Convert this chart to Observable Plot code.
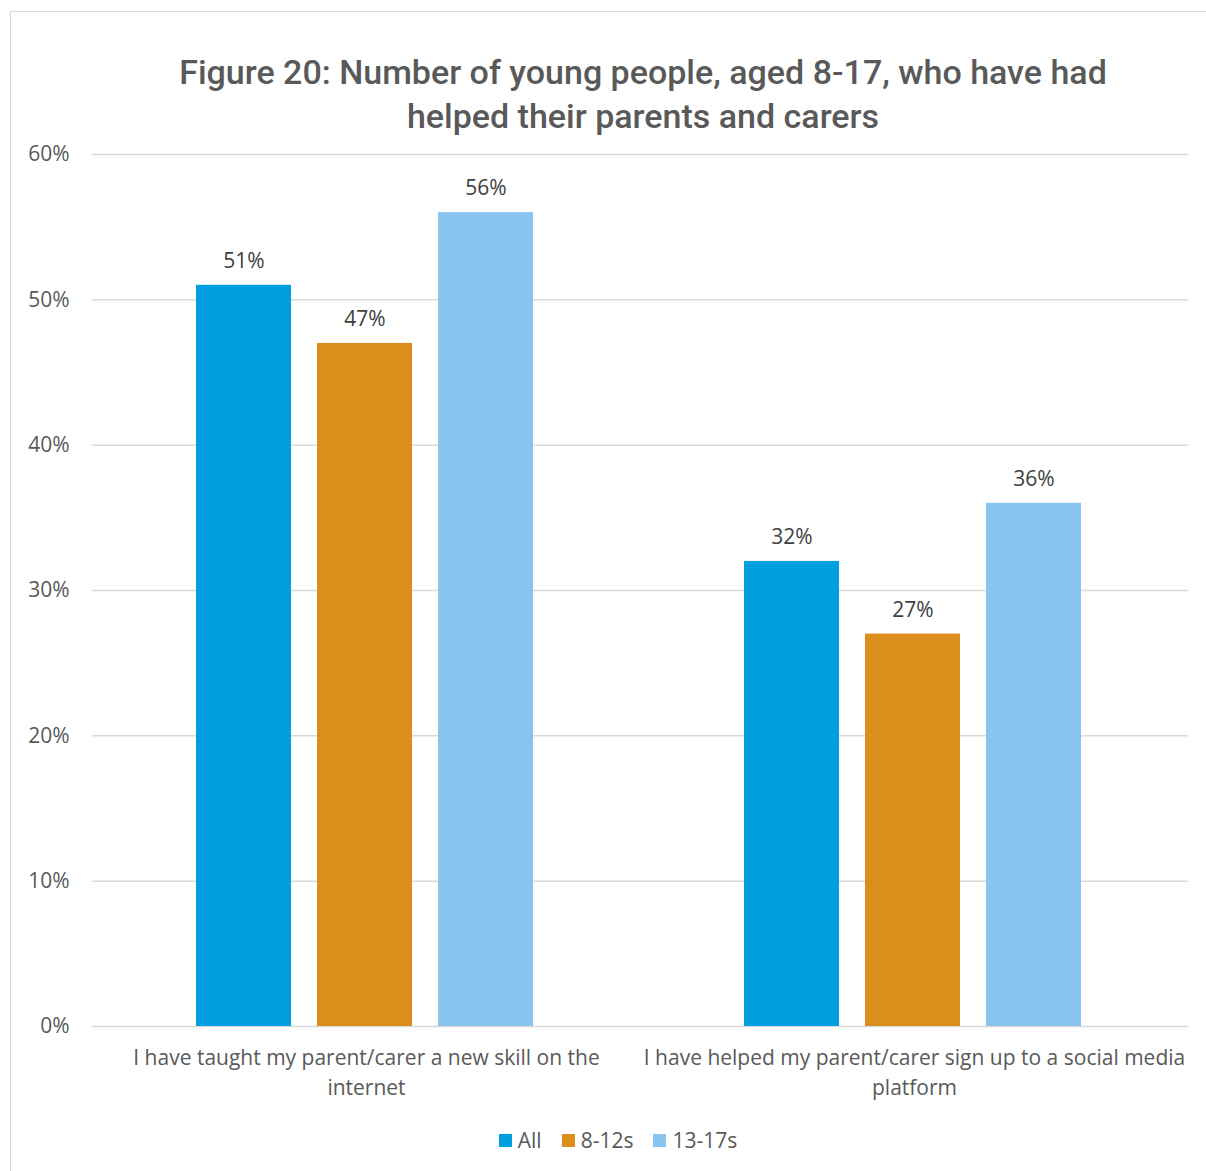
<!DOCTYPE html>
<html>
<head>
<meta charset="utf-8">
<script src="https://cdn.jsdelivr.net/npm/d3@7"></script>
<script src="https://cdn.jsdelivr.net/npm/@observablehq/plot@0.6"></script>
<style>
  html, body { margin: 0; padding: 0; background: #fff; }
  body { width: 1206px; height: 1171px; position: relative; overflow: hidden; font-family: "Open Sans", Lato, sans-serif; }
  #frame { position: absolute; left: 10px; top: 11px; width: 1400px; height: 1400px; border-left: 1.5px solid #d9d9d9; border-top: 1.5px solid #d9d9d9; box-sizing: border-box; }
  #wrap { position: relative; }
  #title { box-sizing: border-box; width: 1206px; padding-top: 50px; padding-left: 80px; height: 138px; text-align: center; font-family: Roboto, sans-serif; font-weight: 500; font-size: 34px; line-height: 44px; color: #595959; }
  #chart svg { display: block; }
  #legend { box-sizing: border-box; width: 1206px; padding-left: 30px; margin-top: 21px; display: flex; justify-content: center; gap: 20px; font-size: 21px; line-height: 26px; color: #595959; }
  #legend .item { display: flex; align-items: center; gap: 6px; }
  #legend .sw { width: 13px; height: 13px; display: inline-block; }
</style>
</head>
<body>
<div id="frame"></div>
<div id="wrap">
  <div id="title">Figure 20: Number of young people, aged 8-17, who have had<br>helped their parents and carers</div>
  <div id="chart"></div>
  <div id="legend"></div>
</div>
<script>
const categories = [
  "I have taught my parent/carer a new skill on the internet",
  "I have helped my parent/carer sign up to a social media platform"
];
const categoryLabels = [
  "I have taught my parent/carer a new skill on the\ninternet",
  "I have helped my parent/carer sign up to a social media\nplatform"
];
const series = ["All", "8-12s", "13-17s"];
const seriesColors = ["#009FE0", "#DC8E1D", "#87C5EF"];
const valuesAll = [51, 32];
const values812 = [47, 27];
const values1317 = [56, 36];
const yTicks = [0, 10, 20, 30, 40, 50, 60];

const seriesValues = [valuesAll, values812, values1317];
const data = [];
categories.forEach((c, i) => {
  series.forEach((s, j) => {
    data.push({category: c, series: s, value: seriesValues[j][i]});
  });
});

const labelMap = new Map(categories.map((c, i) => [c, categoryLabels[i]]));

const chart = Plot.plot({
  width: 1206,
  height: 968,
  marginTop: 16,
  marginBottom: 80,
  marginLeft: 91,
  marginRight: 18,
  style: {fontFamily: "'Open Sans', Lato, sans-serif", fontSize: "21px", color: "#595959", background: "transparent"},
  fx: {domain: categories, padding: 0, label: null},
  x: {domain: series, paddingInner: 0.218, paddingOuter: 0.866, align: 0.49, axis: null},
  y: {domain: [0, 60], label: null},
  color: {domain: series, range: seriesColors},
  marks: [
    Plot.gridY(yTicks, {stroke: "#d9d9d9", strokeOpacity: 1, strokeWidth: 1.5}),
    Plot.axisY(yTicks, {tickSize: 0, tickPadding: 23, tickFormat: d => d + "%", fontSize: 21, fill: "#595959", label: null}),
    Plot.barY(data, {fx: "category", x: "series", y: "value", fill: "series"}),
    Plot.text(data, {fx: "category", x: "series", y: "value", text: d => d.value + "%", lineAnchor: "bottom", dy: -17.5, fontSize: 21, fill: "#404040"}),
    Plot.axisFx({anchor: "bottom", tickSize: 0, tickPadding: 17, tickFormat: d => labelMap.get(d), fontSize: 21, lineHeight: 1.43, fill: "#595959", label: null})
  ]
});
document.getElementById("chart").appendChild(chart);

const legend = document.getElementById("legend");
series.forEach((s, i) => {
  const item = document.createElement("span");
  item.className = "item";
  const sw = document.createElement("span");
  sw.className = "sw";
  sw.style.background = seriesColors[i];
  item.appendChild(sw);
  item.appendChild(document.createTextNode(s));
  legend.appendChild(item);
});
</script>
</body>
</html>
